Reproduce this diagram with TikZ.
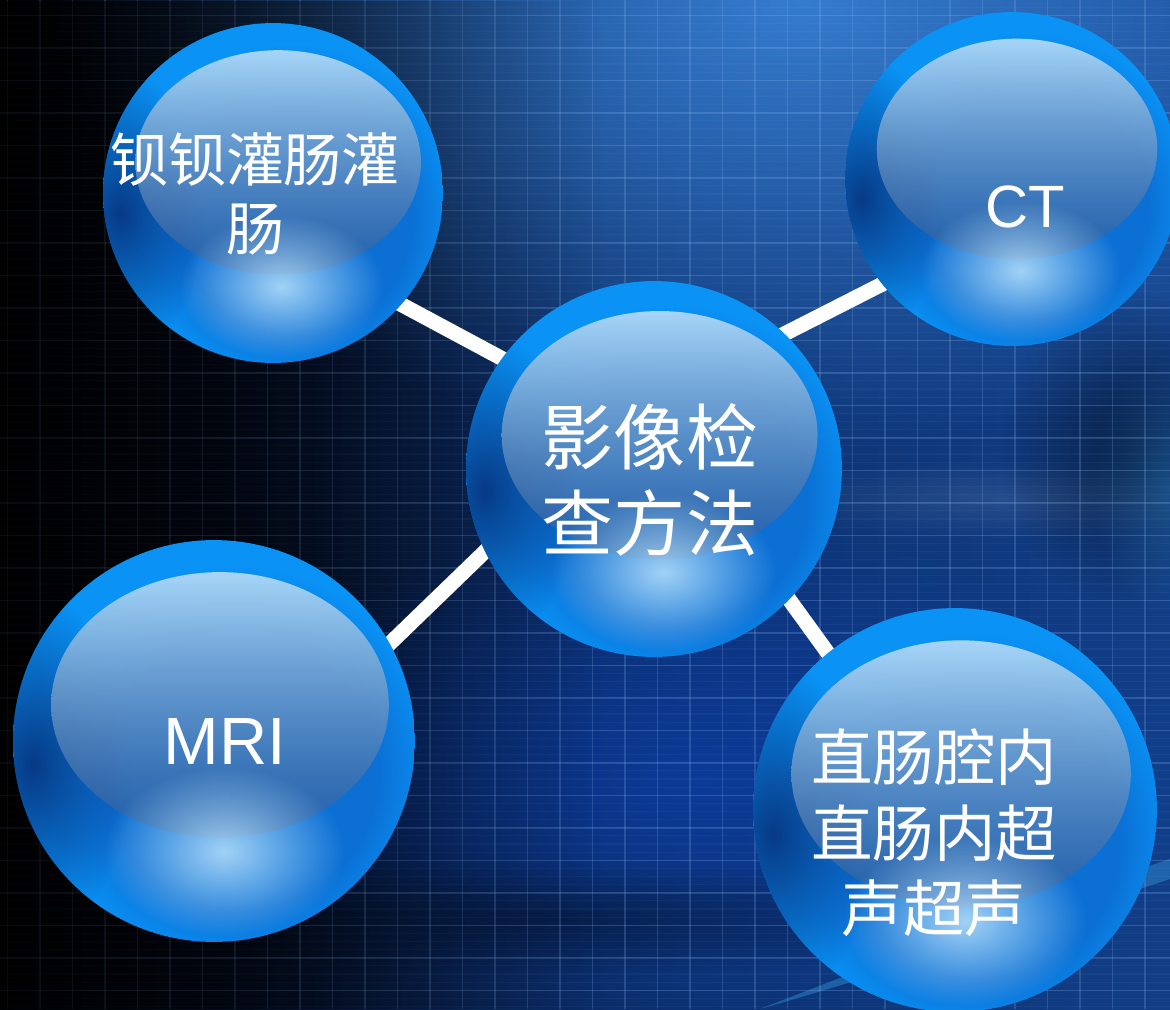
\documentclass[tikz,border=0pt]{standalone}
\usepackage{fontspec}
\setmainfont{Liberation Sans}
\newfontfamily\cjk{Noto Sans CJK SC}
\usetikzlibrary{fadings,calc}

\definecolor{bgA}{HTML}{010206}
\definecolor{bgB}{HTML}{040C1E}
\definecolor{bgC}{HTML}{0A2556}
\definecolor{bgD}{HTML}{0D3272}
\definecolor{bgE}{HTML}{123E86}
\definecolor{bgtop}{HTML}{3A84D8}
\definecolor{bgmid}{HTML}{0B3EA8}
\definecolor{gridc}{HTML}{8AB8F2}
\definecolor{ballmid}{HTML}{0B6FD4}
\definecolor{ballrim}{HTML}{0A92F5}
\definecolor{balldark}{HTML}{07307A}
\definecolor{hltop}{HTML}{A6D5F8}
\definecolor{hlbot}{HTML}{2E5896}
\definecolor{glowc}{HTML}{BDE4FC}
\definecolor{swoosh}{HTML}{3AAEF2}

\pgfdeclarehorizontalshading{bgh}{100bp}{color(0bp)=(bgA); color(25bp)=(bgA); color(35bp)=(bgB); color(45bp)=(bgC); color(55bp)=(bgD); color(75bp)=(bgE); color(100bp)=(bgE)}
\pgfdeclareradialshading{ballsh}{\pgfpoint{5bp}{-6bp}}{color(0bp)=(ballmid); color(17bp)=(ballmid); color(25bp)=(ballrim); color(50bp)=(ballrim)}

\tikzfading[name=glowfade, inner color=transparent!0, outer color=transparent!100]
\tikzfading[name=hlfade, top color=transparent!0, bottom color=transparent!35]
\tikzfading[name=leftfade, left color=transparent!25, right color=transparent!100]

\pgfdeclarelayer{back}
\pgfdeclarelayer{mid}
\pgfsetlayers{back,mid,main}

\tikzset{
  ballnode/.style={circle, inner sep=0pt, outer sep=0pt, shade, shading=ballsh},
  lbl/.style={text=white, align=center, inner sep=0pt},
  conn/.style={draw=white, line width=8.5pt, shorten <=-14pt, shorten >=-14pt},
  gridline/.style={draw=gridc, opacity=.22, line width=.9pt},
  fineline/.style={draw=gridc, opacity=.06, line width=.6pt}
}

\newcommand\myball[4]{%
  \node[ballnode, minimum size={#4*0.04cm}] (#1) at (#2,#3) {};
  \begin{scope}
    \clip (#2,#3) circle ({#4*0.02cm});
    \fill[balldark, path fading=glowfade, opacity=.9] ($(#2,#3)+(-0.9*#4,-0.12*#4)$) ellipse [x radius={0.5*#4*0.02cm}, y radius={0.85*#4*0.02cm}];
    \shade[top color=hltop, bottom color=hlbot, path fading=hlfade] ($(#2,#3)+(0.03*#4,0.18*#4)$) ellipse [x radius={0.84*#4*0.02cm}, y radius={0.66*#4*0.02cm}];
    \fill[glowc, path fading=glowfade, opacity=.85] ($(#2,#3)+(0.05*#4,-0.55*#4)$) ellipse [x radius={0.6*#4*0.02cm}, y radius={0.42*#4*0.02cm}];
  \end{scope}}

\begin{document}
\begin{tikzpicture}[x=0.02cm, y=0.02cm]
\useasboundingbox (0,0) rectangle (1170,1009);

\begin{pgfonlayer}{back}
  \clip (0,0) rectangle (1170,1009);
  \shade[shading=bgh] (0,0) rectangle (1170,1009);
  \fill[bgtop, path fading=glowfade, opacity=.9] (800,1009) ellipse [x radius=15cm, y radius=9cm];
  \fill[bgmid, path fading=glowfade, opacity=.7] (700,230) ellipse [x radius=11cm, y radius=5cm];
  % swooshes
  \fill[black, opacity=.35, path fading=glowfade] (560,90) ellipse [x radius=9cm, y radius=1.2cm];
  \fill[white, opacity=.10, path fading=glowfade] (1010,510) ellipse [x radius=5cm, y radius=.8cm];
  \fill[black, opacity=.45, path fading=glowfade] (1130,560) ellipse [x radius=2.6cm, y radius=3.2cm];
  \fill[swoosh, opacity=.25, path fading=glowfade] (1170,520) ellipse [x radius=1.6cm, y radius=2.6cm];
  \fill[swoosh, opacity=.35] (760,0) .. controls (900,40) and (1050,90) .. (1170,130) -- (1170,150) .. controls (1050,110) and (900,55) .. (760,0) -- cycle;
  % grid
  \foreach \i in {0,...,36} \draw[gridline] ({7.5+32.5*\i},0) -- ({7.5+32.5*\i},1009);
  \foreach \j in {0,...,31} \draw[gridline] (0,{18.5+32.5*\j}) -- (1170,{18.5+32.5*\j});
  \foreach \j in {0,...,126} \draw[fineline] (0,{2.5+8.125*\j}) -- (1170,{2.5+8.125*\j});
  % left darkness
  \fill[black, path fading=leftfade] (0,0) rectangle (600,1009);
\end{pgfonlayer}

\begin{scope}
\clip (0,0) rectangle (1170,1009);
\myball{tl}{273}{816}{170}
\myball{ct}{1012}{830}{167}
\myball{c}{654}{540}{188}
\myball{mri}{214}{268}{201}
\myball{br}{955}{199}{202}
\end{scope}

\begin{pgfonlayer}{mid}
  \draw[conn] (tl.-41) -- (c.144);
  \draw[conn] (ct.-141) -- (c.46.5);
  \draw[conn] (mri.29.5) -- (c.206);
  \draw[conn] (br.129) -- (c.-44.6);
\end{pgfonlayer}

\node[lbl, font=\cjk\fontsize{33pt}{39pt}\selectfont] (t1) at (255,815) {钡钡灌肠灌\\肠};
\node[lbl, font=\fontsize{34pt}{40pt}\selectfont] (t2) at (1025,802) {CT};
\node[lbl, font=\cjk\fontsize{41pt}{49pt}\selectfont] (t3) at (650,529) {影像检\\查方法};
\node[lbl, font=\fontsize{38pt}{44pt}\selectfont] (t4) at (225,267) {MRI};
\node[lbl, font=\cjk\fontsize{35pt}{43pt}\selectfont] (t5) at (934,176) {直肠腔内\\直肠内超\\声超声};
\end{tikzpicture}
\end{document}
